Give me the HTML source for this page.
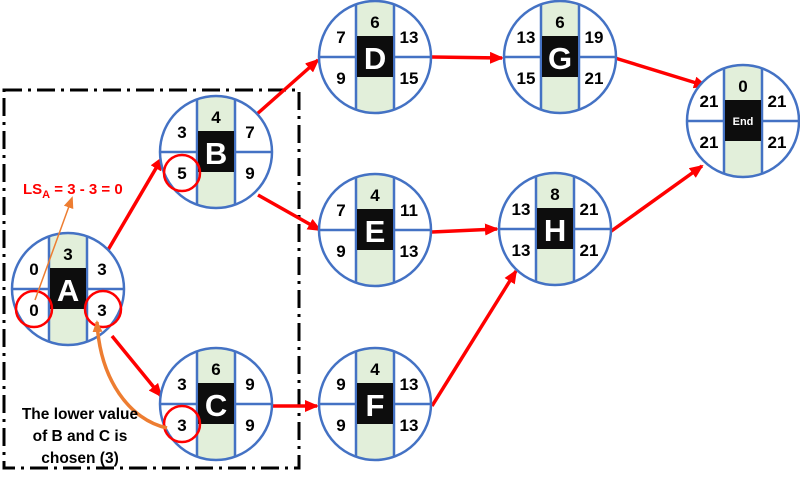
<!DOCTYPE html>
<html><head><meta charset="utf-8"><style>
html,body{margin:0;padding:0;background:#fff}
svg{display:block}
text{font-family:"Liberation Sans",Arial,sans-serif;font-weight:bold}
</style></head><body>
<svg width="800" height="477" viewBox="0 0 800 477" xmlns="http://www.w3.org/2000/svg">
<defs>
<clipPath id="cc"><circle cx="0" cy="0" r="56"/></clipPath>
<marker id="ar" markerWidth="14" markerHeight="12" refX="12" refY="6" orient="auto" markerUnits="userSpaceOnUse" viewBox="0 0 14 12"><path d="M0,0 L14,6 L0,12 z" fill="#f00"/></marker>
<marker id="ao" markerWidth="12" markerHeight="10" refX="10" refY="5" orient="auto" markerUnits="userSpaceOnUse" viewBox="0 0 12 10"><path d="M0,0 L12,5 L0,10 z" fill="#ed7d31"/></marker>
<g id="nd">
<circle r="56" fill="#fff"/>
<g clip-path="url(#cc)">
<rect x="-19" y="-60" width="38" height="120" fill="#e2efda"/>
<line x1="-60" y1="0" x2="60" y2="0" stroke="#4472c4" stroke-width="2.5"/>
<line x1="-19" y1="-60" x2="-19" y2="60" stroke="#4472c4" stroke-width="2.5"/>
<line x1="19" y1="-60" x2="19" y2="60" stroke="#4472c4" stroke-width="2.5"/>
</g>
<rect x="-18" y="-21" width="36" height="41" fill="#0d0d0d"/>
<circle r="56" fill="none" stroke="#4472c4" stroke-width="2.5"/>
</g>
</defs>
<rect x="4" y="90" width="295" height="378" fill="none" stroke="#000" stroke-width="3" stroke-dasharray="18,6,3,6"/>
<g stroke="#f00" stroke-width="3.5" fill="none" marker-end="url(#ar)">
<line x1="108" y1="250" x2="162" y2="158"/>
<line x1="257" y1="114" x2="318" y2="60"/>
<line x1="432" y1="57" x2="502" y2="58"/>
<line x1="615" y1="58" x2="706" y2="86"/>
<line x1="258" y1="195" x2="320" y2="230"/>
<line x1="432" y1="232" x2="497" y2="229"/>
<line x1="610" y1="232" x2="702" y2="166"/>
<line x1="112" y1="336" x2="161" y2="396"/>
<line x1="271" y1="406" x2="317" y2="406"/>
<line x1="432" y1="406" x2="516" y2="271"/>
</g>
<g font-size="17" text-anchor="middle" fill="#000">
<g transform="translate(68,289)"><use href="#nd"/><text y="-29">3</text><text x="-34" y="-14">0</text><text x="34" y="-14">3</text><text x="-34" y="27">0</text><text x="34" y="27">3</text><text y="12" font-size="31" fill="#fff">A</text></g>
<g transform="translate(216,152)"><use href="#nd"/><text y="-29">4</text><text x="-34" y="-14">3</text><text x="34" y="-14">7</text><text x="-34" y="27">5</text><text x="34" y="27">9</text><text y="12" font-size="31" fill="#fff">B</text></g>
<g transform="translate(216,404)"><use href="#nd"/><text y="-29">6</text><text x="-34" y="-14">3</text><text x="34" y="-14">9</text><text x="-34" y="27">3</text><text x="34" y="27">9</text><text y="12" font-size="31" fill="#fff">C</text></g>
<g transform="translate(375,57)"><use href="#nd"/><text y="-29">6</text><text x="-34" y="-14">7</text><text x="34" y="-14">13</text><text x="-34" y="27">9</text><text x="34" y="27">15</text><text y="12" font-size="31" fill="#fff">D</text></g>
<g transform="translate(375,230)"><use href="#nd"/><text y="-29">4</text><text x="-34" y="-14">7</text><text x="34" y="-14">11</text><text x="-34" y="27">9</text><text x="34" y="27">13</text><text y="12" font-size="31" fill="#fff">E</text></g>
<g transform="translate(375,404)"><use href="#nd"/><text y="-29">4</text><text x="-34" y="-14">9</text><text x="34" y="-14">13</text><text x="-34" y="27">9</text><text x="34" y="27">13</text><text y="12" font-size="31" fill="#fff">F</text></g>
<g transform="translate(560,57)"><use href="#nd"/><text y="-29">6</text><text x="-34" y="-14">13</text><text x="34" y="-14">19</text><text x="-34" y="27">15</text><text x="34" y="27">21</text><text y="12" font-size="31" fill="#fff">G</text></g>
<g transform="translate(555,229)"><use href="#nd"/><text y="-29">8</text><text x="-34" y="-14">13</text><text x="34" y="-14">21</text><text x="-34" y="27">13</text><text x="34" y="27">21</text><text y="12" font-size="31" fill="#fff">H</text></g>
<g transform="translate(743,121)"><use href="#nd"/><text y="-29">0</text><text x="-34" y="-14">21</text><text x="34" y="-14">21</text><text x="-34" y="27">21</text><text x="34" y="27">21</text><text y="4" font-size="11" fill="#fff">End</text></g>
</g>
<g fill="none" stroke="#f00" stroke-width="2.5">
<circle cx="34" cy="309" r="18"/>
<circle cx="103" cy="309" r="18"/>
<circle cx="182" cy="173" r="18"/>
<circle cx="182" cy="424" r="18"/>
</g>
<line x1="35" y1="300" x2="72" y2="198" stroke="#ed7d31" stroke-width="1.5" marker-end="url(#ao)"/>
<path d="M167,428 C130,420 100,380 97,322" fill="none" stroke="#ed7d31" stroke-width="3.5" marker-end="url(#ao)"/>
<text x="23" y="194" font-size="15" fill="#f00">LS<tspan font-size="11" dy="4">A</tspan><tspan dy="-4"> = 3 - 3 = 0</tspan></text>
<g font-size="15.5" text-anchor="middle" fill="#000">
<text x="80" y="419">The lower value</text>
<text x="80" y="441">of B and C is</text>
<text x="80" y="463">chosen (3)</text>
</g>
</svg>
</body></html>
